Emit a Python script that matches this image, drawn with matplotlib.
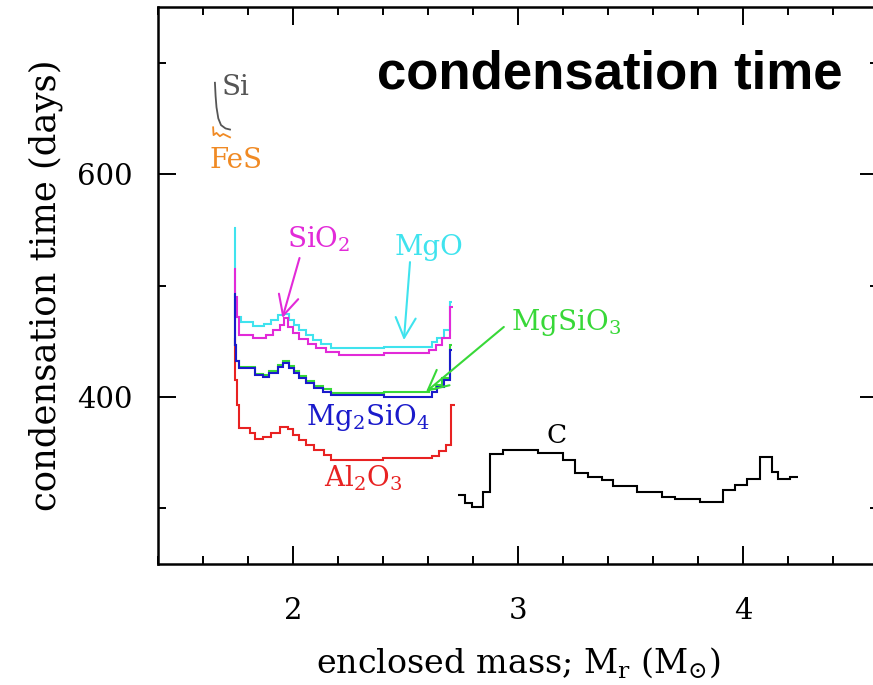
import matplotlib
matplotlib.use("Agg")
import matplotlib.pyplot as plt
from matplotlib.ticker import MultipleLocator, FixedLocator

plt.rcParams["font.family"] = ["DejaVu Serif"]
plt.rcParams["mathtext.fontset"] = "dejavuserif"

# ---- condensation-time step profiles (edges in M_sun, levels in days) ----
mgo_edges = [1.736, 1.740, 1.770, 1.822, 1.873, 1.903, 1.932, 1.962, 1.984, 2.006, 2.028,
             2.058, 2.087, 2.124, 2.169, 2.405, 2.619, 2.641, 2.671, 2.696, 2.708]
mgo_levels = [552, 472, 467.5, 463.7, 465.5, 469, 473.5, 474.5, 469, 464.6,
              460, 455.6, 451, 447.5, 443.7, 445.1, 449.6, 452.6, 460, 485.5]

sio2_edges = [1.736, 1.742, 1.750, 1.762, 1.822, 1.881, 1.910, 1.940, 1.962, 1.977, 1.999,
              2.028, 2.065, 2.102, 2.147, 2.206, 2.405, 2.604, 2.634, 2.663, 2.696, 2.712]
sio2_levels = [515, 490, 472, 455.6, 452.6, 455.6, 460, 464.6, 470.6, 463, 457,
               451.7, 447.5, 443.7, 440.7, 437.7, 439.2, 442.2, 446.6, 452.6, 481]

mg2sio4_edges = [1.736, 1.740, 1.748, 1.762, 1.829, 1.866, 1.895, 1.932, 1.955, 1.984, 2.006,
                 2.028, 2.058, 2.095, 2.132, 2.169, 2.405, 2.619, 2.641, 2.671, 2.696, 2.708]
mg2sio4_levels = [492, 447, 432, 425.7, 419.7, 418.2, 421.3, 427.2, 430.2, 425.7, 421.3,
                  416.8, 412.3, 407.8, 404.8, 401.8, 400.3, 404.8, 409.2, 415.2, 442.2]

mgsio3_edges = [1.736, 1.740, 1.748, 1.762, 1.829, 1.866, 1.895, 1.932, 1.955, 1.984, 2.006,
                2.028, 2.058, 2.095, 2.132, 2.169, 2.405, 2.604, 2.634, 2.663, 2.696, 2.708]
mgsio3_levels = [488, 447, 432, 426.5, 420.5, 419.5, 423, 429, 432, 428, 423.5,
                 419, 414.5, 410, 407, 403.5, 404.5, 407, 411, 417, 446.6]

al2o3_edges = [1.736, 1.740, 1.752, 1.759, 1.770, 1.807, 1.829, 1.866, 1.903, 1.940, 1.977,
               1.999, 2.028, 2.058, 2.095, 2.139, 2.169, 2.398, 2.619, 2.649, 2.678, 2.703, 2.722]
al2o3_levels = [452.6, 415, 393, 372, 371.9, 367.4, 362, 363.8, 368, 373.4, 371,
                365.9, 361.4, 357, 352.5, 348, 343.5, 345, 347.1, 351.8, 357, 392.8]

c_edges = [2.735, 2.764, 2.794, 2.846, 2.876, 2.935, 3.09, 3.20, 3.253, 3.31, 3.372, 3.424,
           3.527, 3.639, 3.698, 3.809, 3.912, 3.964, 4.016, 4.076, 4.127, 4.157, 4.209, 4.246]
c_levels = [312, 305, 301, 315, 349, 352, 350, 343, 332, 328, 325, 320,
            315, 310, 308, 306, 316, 321, 326, 346, 333, 326, 328]

si_mass = [1.653, 1.656, 1.660, 1.668, 1.680, 1.700, 1.720]
si_time = [682, 670, 660, 650, 644, 641, 640]

fes_mass = [1.645, 1.647, 1.660, 1.675, 1.690, 1.720]
fes_time = [642, 635, 637, 634, 636, 633]

x_ticks = [2, 3, 4]
y_ticks = [400, 600]

# ---- colours ----
c_mgo = "#3fe3ee"
c_sio2 = "#e22ad8"
c_mg2sio4 = "#1a1acb"
c_mgsio3 = "#38d838"
c_al2o3 = "#e82222"
c_si = "#555555"
c_fes = "#f08a24"

fig = plt.figure(figsize=(8.73, 6.85), dpi=100)
ax = fig.add_axes([158 / 873, 1 - 564 / 685, 720 / 873, 557 / 685])

lw = 1.5
step_kw = dict(lw=lw, baseline=None)
ax.stairs(mgo_levels, mgo_edges, color=c_mgo, **step_kw)
ax.stairs(sio2_levels, sio2_edges, color=c_sio2, **step_kw)
ax.stairs(al2o3_levels, al2o3_edges, color=c_al2o3, **step_kw)
ax.stairs(mgsio3_levels, mgsio3_edges, color=c_mgsio3, **step_kw)
ax.stairs(mg2sio4_levels, mg2sio4_edges, color=c_mg2sio4, **step_kw)
ax.stairs(c_levels, c_edges, color="black", **step_kw)
ax.plot(si_mass, si_time, color=c_si, lw=1.3)
ax.plot(fes_mass, fes_time, color=c_fes, lw=1.3)

ax.set_xlim(1.4, 4.6)
ax.set_ylim(250, 750)

# ---- labels on the curves ----
fs = 20
ax.text(1.683, 670.8, "Si", color=c_si, fontsize=fs)
ax.text(1.630, 605.4, "FeS", color=c_fes, fontsize=fs)
ax.text(1.975, 534.5, r"SiO$_2$", color=c_sio2, fontsize=fs)
ax.text(2.45, 527.4, "MgO", color=c_mgo, fontsize=fs)
ax.text(2.967, 460, r"MgSiO$_3$", color=c_mgsio3, fontsize=fs)
ax.text(2.056, 375, r"Mg$_2$SiO$_4$", color=c_mg2sio4, fontsize=fs)
ax.text(2.139, 319.3, r"Al$_2$O$_3$", color=c_al2o3, fontsize=fs)
ax.text(3.127, 358.7, "C", color="black", fontsize=19)

ax.text(2.374, 677, "condensation time", fontsize=38, fontweight="bold",
        family=["Liberation Sans", "DejaVu Sans"], color="black")

arrow_kw = dict(arrowstyle="->", lw=1.5, mutation_scale=36, shrinkA=0, shrinkB=0)
ax.annotate("", xy=(1.953, 470.9), xytext=(2.029, 524.7),
            arrowprops=dict(color=c_sio2, **arrow_kw))
ax.annotate("", xy=(2.493, 451), xytext=(2.520, 521),
            arrowprops=dict(color=c_mgo, **arrow_kw))
ax.annotate("", xy=(2.591, 404.5), xytext=(2.937, 462.8),
            arrowprops=dict(color=c_mgsio3, **arrow_kw))

# ---- axes styling ----
ax.xaxis.set_major_locator(FixedLocator(x_ticks))
ax.xaxis.set_minor_locator(MultipleLocator(0.2))
ax.yaxis.set_major_locator(FixedLocator(y_ticks))
ax.yaxis.set_minor_locator(MultipleLocator(100))
ax.tick_params(which="both", direction="in", top=True, right=True, width=1.4)
ax.tick_params(which="major", length=13, labelsize=21)
ax.tick_params(which="minor", length=6)
ax.tick_params(axis="x", which="major", pad=24)
ax.tick_params(axis="y", which="major", pad=18)
for sp in ax.spines.values():
    sp.set_linewidth(1.8)

ax.set_xlabel(r"enclosed mass; M$_{\rm r}$ (M$_{\odot}$)", fontsize=24, labelpad=14)
ax.set_ylabel("condensation time (days)", fontsize=25.5, labelpad=10)

fig.savefig("out.png", dpi=100)
